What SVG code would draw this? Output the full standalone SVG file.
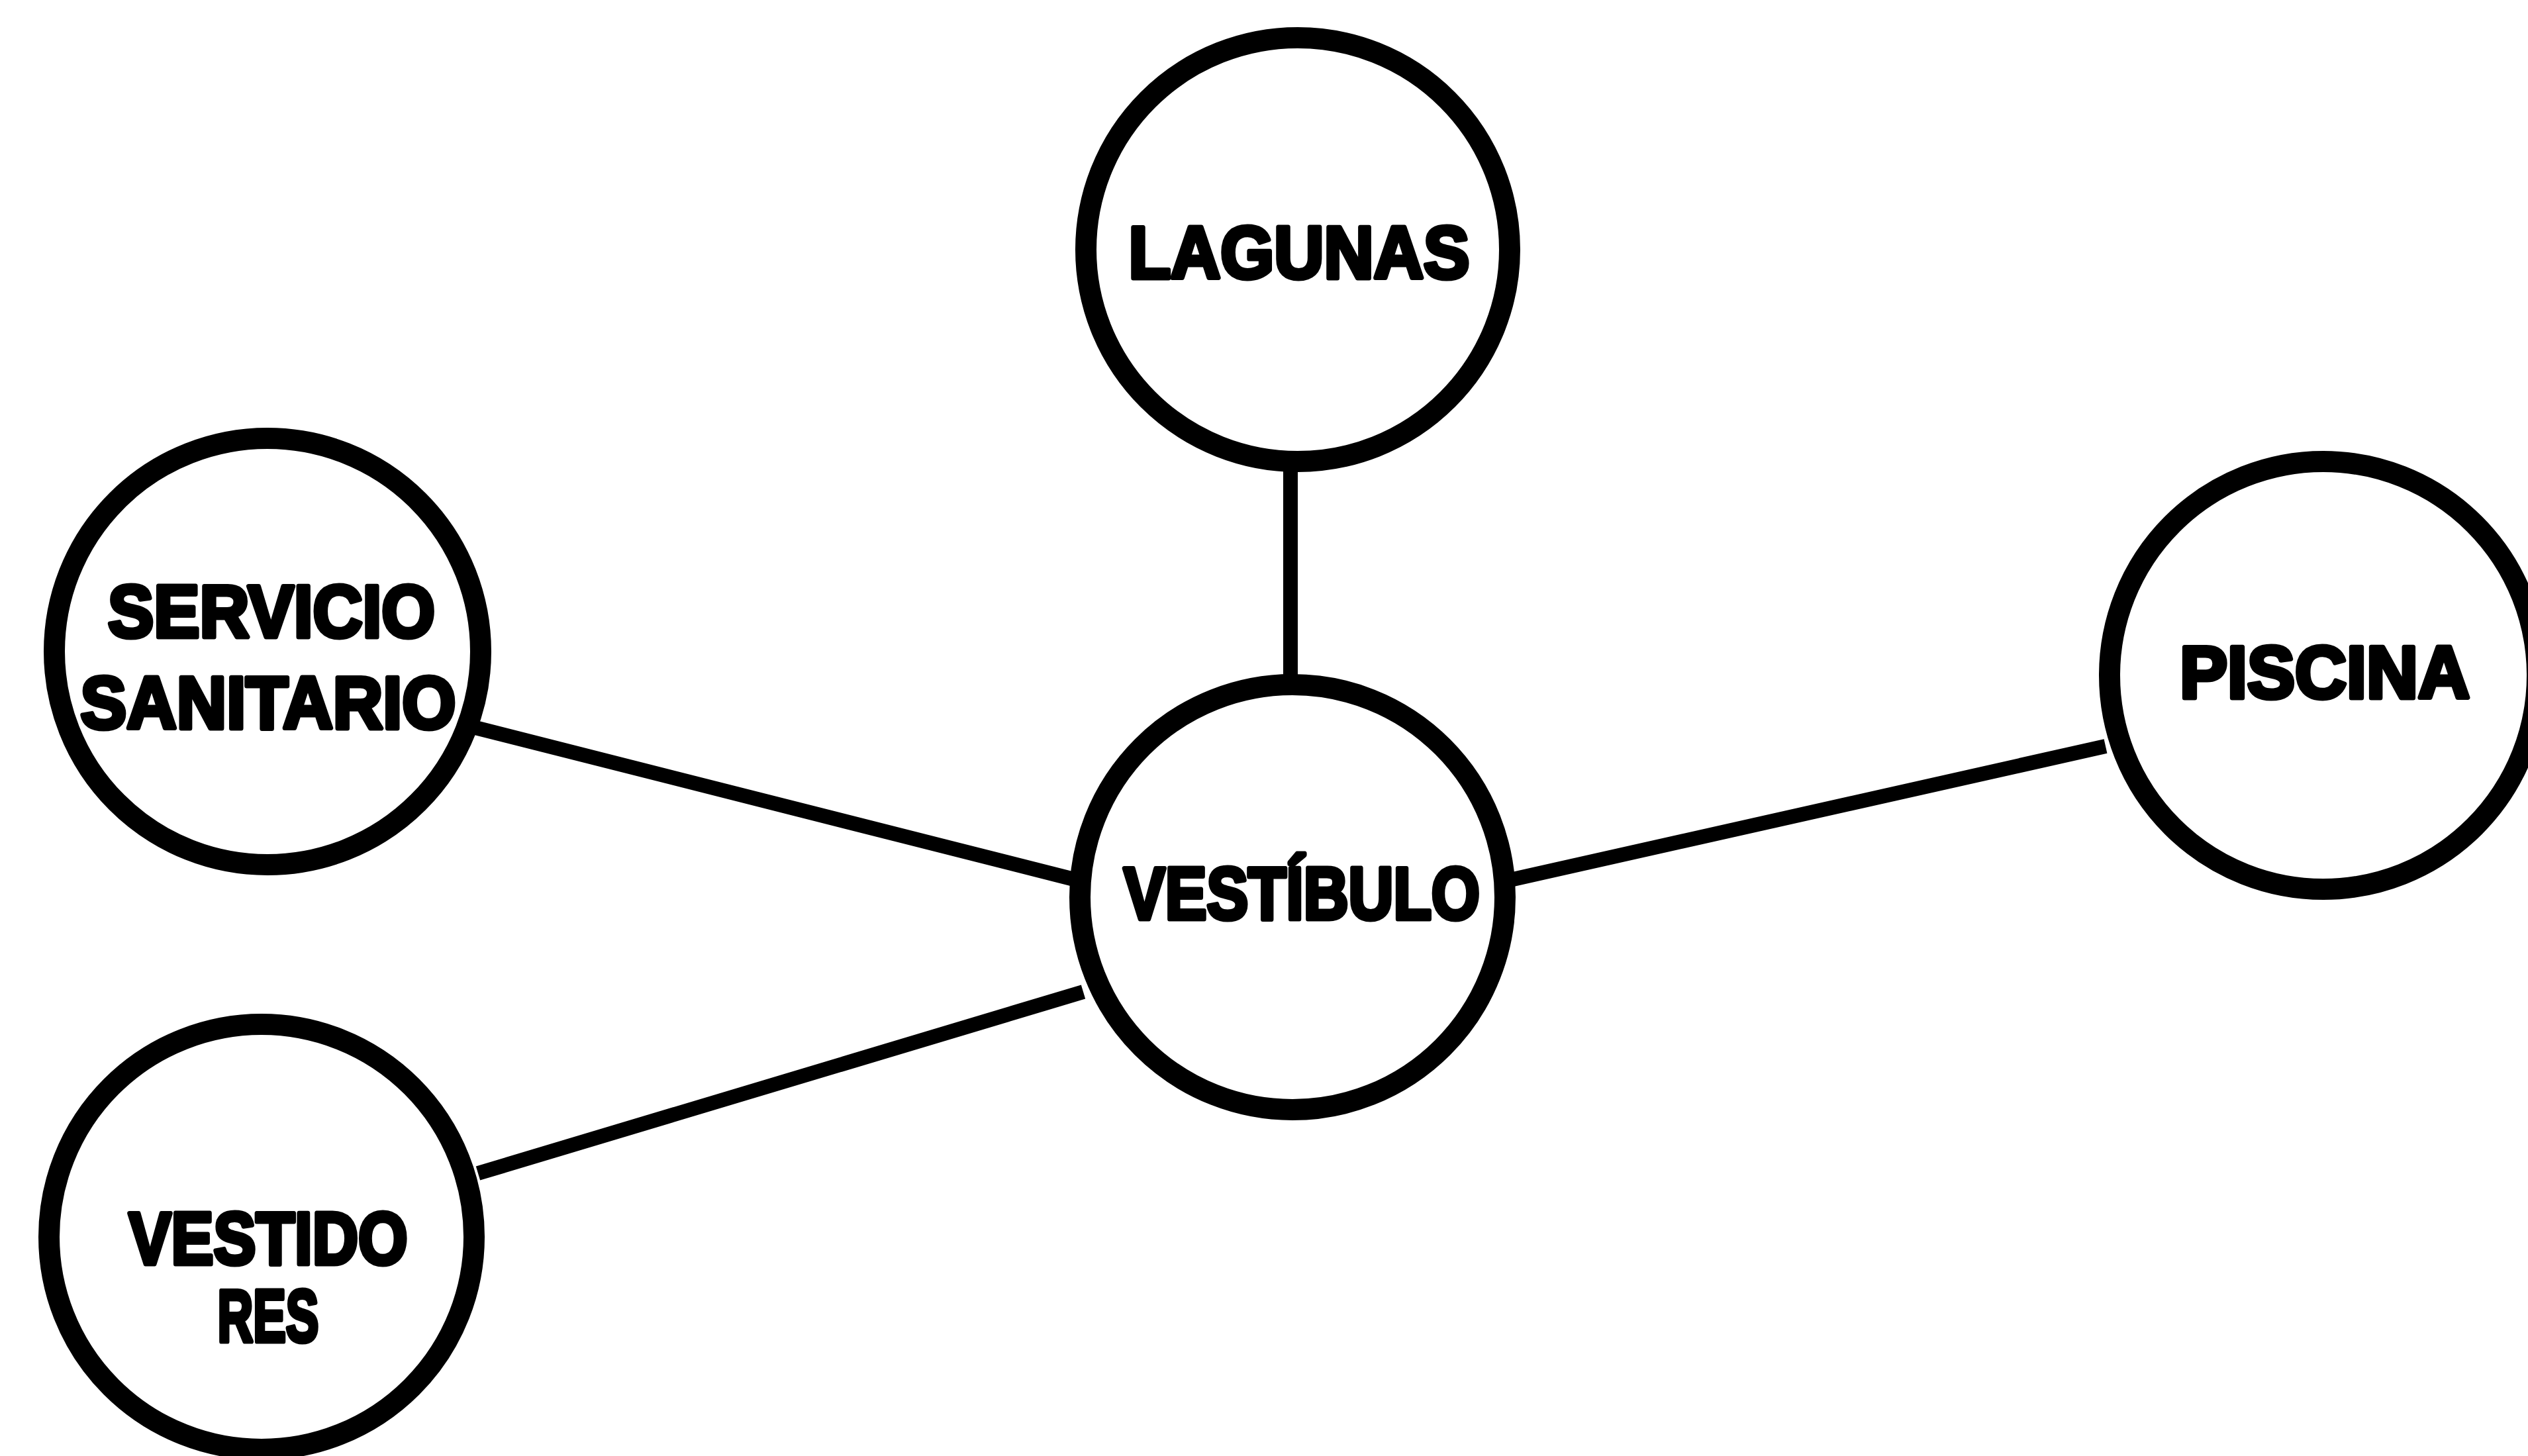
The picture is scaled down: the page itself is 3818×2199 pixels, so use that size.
<svg xmlns="http://www.w3.org/2000/svg" width="3818" height="2199" viewBox="0 0 3818 2199">
<style>
.node{fill:none;stroke:#000;stroke-width:32}
.edge{stroke:#000;stroke-width:22;stroke-linecap:butt}
.lbl{font-family:"Liberation Sans","Arial",sans-serif;font-weight:bold;font-size:112px;fill:#000;stroke:#000;stroke-width:7;stroke-linejoin:round;text-anchor:middle}
</style>
<rect width="3818" height="2199" fill="#fff"/>
<g id="connectors">
<line class="edge" x1="1949" y1="700" x2="1949" y2="1025"/>
<line class="edge" x1="718" y1="1099" x2="1622" y2="1328"/>
<line class="edge" x1="722" y1="1772" x2="1636" y2="1498"/>
<line class="edge" x1="2285" y1="1328" x2="3180" y2="1127"/>
</g>
<g id="lagunas">
<circle class="node" cx="1960" cy="377" r="320"/>
<text class="lbl" x="1962" y="420" textLength="515" lengthAdjust="spacingAndGlyphs">LAGUNAS</text>
</g>
<g id="servicio-sanitario">
<circle class="node" cx="404" cy="984" r="322"/>
<text class="lbl" x="410" y="962" textLength="494" lengthAdjust="spacingAndGlyphs">SERVICIO</text>
<text class="lbl" x="405" y="1100" textLength="567" lengthAdjust="spacingAndGlyphs">SANITARIO</text>
</g>
<g id="vestibulo">
<circle class="node" cx="1952" cy="1355" r="321"/>
<text class="lbl" x="1966" y="1388" textLength="538" lengthAdjust="spacingAndGlyphs">VESTÍBULO</text>
</g>
<g id="piscina">
<circle class="node" cx="3509" cy="1020" r="323"/>
<text class="lbl" x="3511" y="1054" textLength="438" lengthAdjust="spacingAndGlyphs">PISCINA</text>
</g>
<g id="vestidores">
<circle class="node" cx="395" cy="1868" r="321"/>
<text class="lbl" x="405" y="1909" textLength="421" lengthAdjust="spacingAndGlyphs">VESTIDO</text>
<text class="lbl" x="405" y="2026" textLength="153" lengthAdjust="spacingAndGlyphs">RES</text>
</g>
</svg>
